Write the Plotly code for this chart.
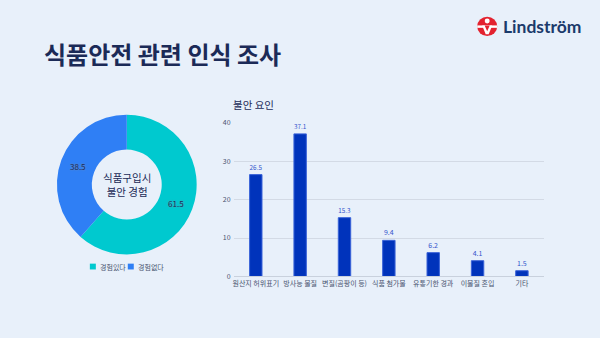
import plotly.graph_objects as go

# 식품구입시 불안 경험 (%)
pie_labels = ["경험있다", "경험없다"]
pie_values = [61.5, 38.5]
pie_colors = ["#00c9cf", "#2f7ff5"]

# 불안 요인 (%)
factors = ["원산지 허위표기", "방사능 물질", "변질(곰팡이 등)", "식품 첨가물",
           "유통기한 경과", "이물질 혼입", "기타"]
factor_values = [26.5, 37.1, 15.3, 9.4, 6.2, 4.1, 1.5]
y_ticks = [0, 10, 20, 30, 40]

W, H = 600, 338
BG = "#e8f0fa"
NAVY = "#1b2a57"
FONT = "Noto Sans CJK KR"


def px(x):
    return x / W


def py(y):
    return 1 - y / H


fig = go.Figure()

fig.add_trace(go.Pie(
    labels=pie_labels, values=pie_values,
    marker=dict(colors=pie_colors, line=dict(width=0)),
    hole=0.5, sort=False, direction="clockwise", rotation=0,
    texttemplate="%{value}", textposition="inside",
    textfont=dict(size=8, color="#1b2a57", family=FONT,
                  shadow="0px 0px 2px #7f8fa6"),
    insidetextorientation="horizontal",
    domain=dict(x=[px(54), px(198)], y=[py(256), py(112)]),
    showlegend=False, hoverinfo="label+value",
))

fig.add_trace(go.Bar(
    x=factors, y=factor_values,
    marker=dict(color="#0033bb", line=dict(color="#3a63d8", width=1)),
    text=[f"{v}" for v in factor_values], textposition="outside",
    textfont=dict(size=7, color="#3355cc", family=FONT),
    cliponaxis=False, width=0.28, showlegend=False,
    xaxis="x", yaxis="y",
))

fig.update_layout(
    width=W, height=H,
    paper_bgcolor=BG, plot_bgcolor=BG,
    margin=dict(l=0, r=0, t=0, b=0),
    font=dict(family=FONT, color=NAVY),
    xaxis=dict(domain=[px(233), px(544)], showgrid=False,
               tickfont=dict(size=7, color="#4a5570"),
               showline=True, linecolor="#c9d1dd", linewidth=1,
               ticks="", fixedrange=True),
    yaxis=dict(domain=[py(278.7), py(120.3)], range=[0, 40],
               tickvals=y_ticks, tickfont=dict(size=7, color="#4a5570"),
               gridcolor="#d3dae5", gridwidth=1, zeroline=False,
               showline=False, ticks="", ticklabelstandoff=2),
    showlegend=False,
    bargap=0.72,
)

# 도넛 범례 (작은 둥근 사각형 + 라벨)
legend_items = [(89, pie_labels[0], pie_colors[0]), (127, pie_labels[1], pie_colors[1])]
for lx, name, col in legend_items:
    fig.add_shape(type="rect", xref="paper", yref="paper",
                  x0=px(lx), x1=px(lx + 6), y0=py(271.5), y1=py(265.5),
                  fillcolor=col, line=dict(width=0))
    fig.add_annotation(text=name, x=px(lx + 8), y=py(268.5),
                       xref="paper", yref="paper", xanchor="left", yanchor="middle",
                       showarrow=False, font=dict(size=7, color="#4a5570", family=FONT))

# 제목
fig.add_annotation(text="<b>식품안전 관련 인식 조사</b>", x=px(41), y=py(49),
                   xref="paper", yref="paper", xanchor="left", yanchor="middle",
                   showarrow=False, font=dict(size=24, color=NAVY, family=FONT))

# 막대 차트 제목
fig.add_annotation(text="불안 요인", x=px(230), y=py(102),
                   xref="paper", yref="paper", xanchor="left", yanchor="middle",
                   showarrow=False, font=dict(size=10.5, color=NAVY, family=FONT))

# 도넛 중앙 문구
fig.add_annotation(text="식품구입시<br>불안 경험", x=px(126), y=py(184),
                   xref="paper", yref="paper", xanchor="center", yanchor="middle",
                   showarrow=False, align="center",
                   font=dict(size=10.5, color=NAVY, family=FONT))

# 로고 워드마크
fig.add_annotation(text="<b>Lindström</b>", x=px(501), y=py(21),
                   xref="paper", yref="paper", xanchor="left", yanchor="middle",
                   showarrow=False, font=dict(size=17.5, color="#1b3a6b", family="Lato"))

# 로고 아이콘
cx, cy, r = 487, 21, 10
fig.add_shape(type="circle", xref="paper", yref="paper",
              x0=px(cx - r), x1=px(cx + r), y0=py(cy + r), y1=py(cy - r),
              fillcolor="#e3222f", line=dict(width=0))
fig.add_shape(type="rect", xref="paper", yref="paper",
              x0=px(cx - r), x1=px(cx + r), y0=py(cy + 1.5), y1=py(cy - 1),
              fillcolor="white", line=dict(width=0))
fig.add_shape(type="path", xref="paper", yref="paper",
              path=(f"M {px(cx-5)} {py(cy-1)} L {px(cx+5)} {py(cy-1)} "
                    f"L {px(cx+1.5)} {py(cy+8)} L {px(cx-1.5)} {py(cy+8)} Z"),
              fillcolor="white", line=dict(width=0))
fig.add_shape(type="path", xref="paper", yref="paper",
              path=(f"M {px(cx-2.5)} {py(cy-1)} L {px(cx+2.5)} {py(cy-1)} "
                    f"L {px(cx)} {py(cy+5)} Z"),
              fillcolor="#e3222f", line=dict(width=0))
fig.add_shape(type="circle", xref="paper", yref="paper",
              x0=px(cx - 2.5), x1=px(cx + 2.5), y0=py(cy - 3), y1=py(cy - 8),
              fillcolor="white", line=dict(width=0))

fig.write_html("out.html")
